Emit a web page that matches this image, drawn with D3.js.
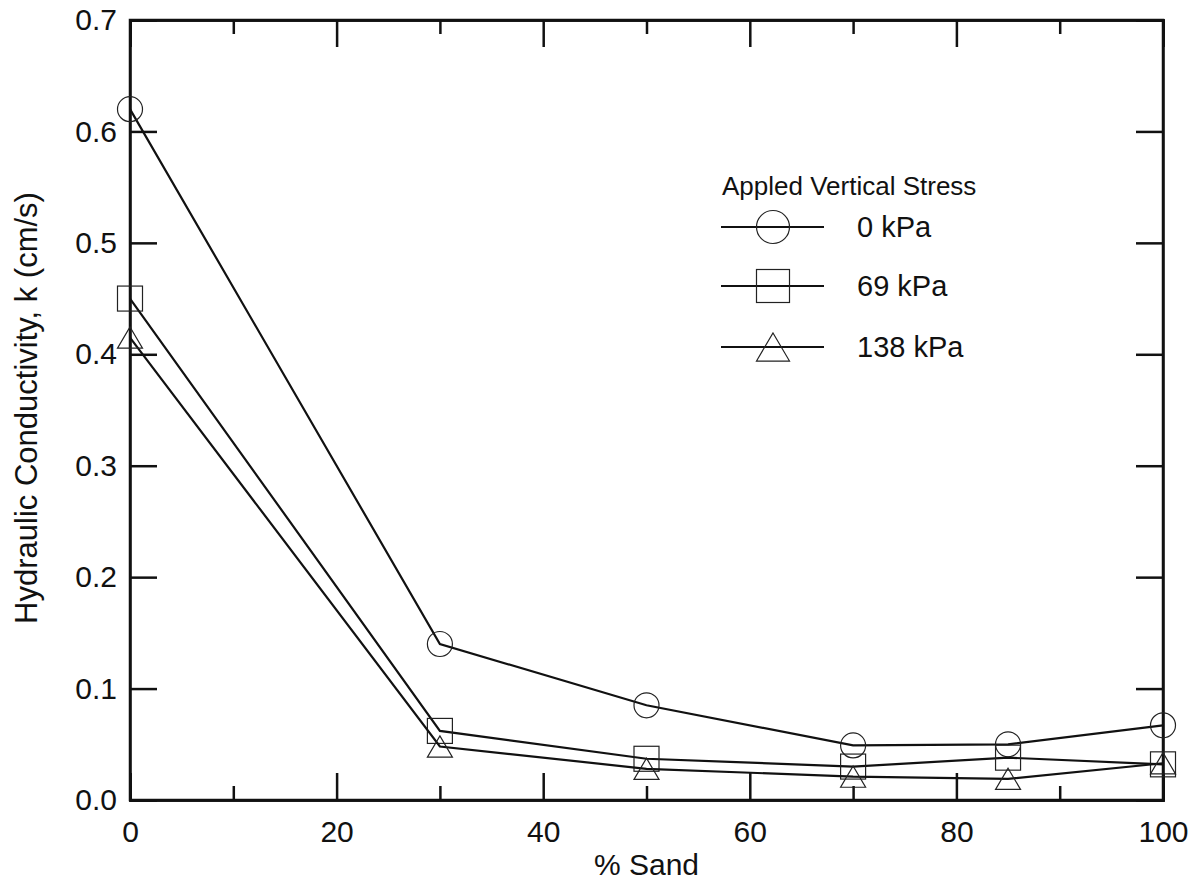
<!DOCTYPE html>
<html>
<head>
<meta charset="utf-8">
<script src="https://cdn.jsdelivr.net/npm/d3@7"></script>
<style>
body { margin: 0; background: #fff; }
text { font-family: "Liberation Sans", Arial, sans-serif; fill: #111; }
</style>
</head>
<body>
<script>
// data
var sand = [0, 30, 50, 70, 85, 100];
var k0 = [0.62, 0.14, 0.085, 0.049, 0.050, 0.067];
var k69 = [0.45, 0.062, 0.037, 0.030, 0.038, 0.032];
var k138 = [0.415, 0.048, 0.028, 0.021, 0.019, 0.033];
var seriesNames = ["0 kPa", "69 kPa", "138 kPa"];
var markerTypes = ["circle", "square", "triangle"];
var xTicks = [0, 20, 40, 60, 80, 100];
var xMinor = [10, 30, 50, 70, 90];
var yTicks = [0, 0.1, 0.2, 0.3, 0.4, 0.5, 0.6, 0.7];

var width = 1195, height = 881;
var mLeft = 130, mRight = 1163, mTop = 20, mBottom = 800;

var svg = d3.select("body").append("svg")
  .attr("width", width)
  .attr("height", height);

var x = d3.scaleLinear().domain([0, 100]).range([mLeft, mRight]);
var y = d3.scaleLinear().domain([0, 0.7]).range([mBottom, mTop]);

// axes, ticks pointing inward
svg.append("g").attr("transform", "translate(0," + mBottom + ")")
  .call(d3.axisBottom(x).tickValues(xTicks).tickSize(-27).tickPadding(21).tickFormat(d3.format("d")));
svg.append("g").attr("transform", "translate(0," + mBottom + ")")
  .call(d3.axisBottom(x).tickValues(xMinor).tickSize(-14).tickFormat(""));
svg.append("g").attr("transform", "translate(0," + mTop + ")")
  .call(d3.axisTop(x).tickValues(xTicks).tickSize(-27).tickFormat(""));
svg.append("g").attr("transform", "translate(0," + mTop + ")")
  .call(d3.axisTop(x).tickValues(xMinor).tickSize(-14).tickFormat(""));
svg.append("g").attr("transform", "translate(" + mLeft + ",0)")
  .call(d3.axisLeft(y).tickValues(yTicks).tickSize(-27).tickPadding(13).tickFormat(d3.format(".1f")));
svg.append("g").attr("transform", "translate(" + mRight + ",0)")
  .call(d3.axisRight(y).tickValues(yTicks).tickSize(-27).tickFormat(""));

svg.selectAll(".domain").attr("stroke", "#111").attr("stroke-width", 2.5);
svg.selectAll(".tick line").attr("stroke", "#111").attr("stroke-width", 2.5);
svg.selectAll(".tick text").style("font-size", "30px").attr("fill", "#111");

// box
svg.append("rect")
  .attr("x", mLeft).attr("y", mTop)
  .attr("width", mRight - mLeft).attr("height", mBottom - mTop)
  .attr("fill", "none").attr("stroke", "#111").attr("stroke-width", 2.5);

// axis titles
svg.append("text")
  .attr("x", (mLeft + mRight) / 2).attr("y", 875)
  .attr("text-anchor", "middle")
  .style("font-size", "30px")
  .text("% Sand");
svg.append("text")
  .attr("transform", "translate(37,408) rotate(-90)")
  .attr("text-anchor", "middle")
  .style("font-size", "31px")
  .text("Hydraulic Conductivity, k (cm/s)");

function drawMarker(g, type, cx, cy, s) {
  if (type === "circle") {
    g.append("circle").attr("cx", cx).attr("cy", cy).attr("r", s / 2);
  } else if (type === "square") {
    g.append("rect").attr("x", cx - s / 2).attr("y", cy - s / 2).attr("width", s).attr("height", s);
  } else {
    var h = s * 0.85;
    g.append("path").attr("d", "M" + cx + "," + (cy - h / 2) + "L" + (cx + s / 2) + "," + (cy + h / 2) + "L" + (cx - s / 2) + "," + (cy + h / 2) + "Z");
  }
}

var allSeries = [k0, k69, k138];
var line = d3.line().x(function(d) { return x(d[0]); }).y(function(d) { return y(d[1]); });

allSeries.forEach(function(vals, i) {
  var pts = sand.map(function(s, j) { return [s, vals[j]]; });
  svg.append("path").datum(pts)
    .attr("d", line)
    .attr("fill", "none").attr("stroke", "#111").attr("stroke-width", 2.2);
  var mg = svg.append("g").attr("fill", "none").attr("stroke", "#222").attr("stroke-width", 1.2);
  pts.forEach(function(p) {
    drawMarker(mg, markerTypes[i], x(p[0]), y(p[1]), 25);
  });
});

// legend
var legend = svg.append("g");
legend.append("text").attr("x", 722).attr("y", 195)
  .style("font-size", "26px").text("Appled Vertical Stress");
var rowY = [227, 286, 347];
seriesNames.forEach(function(name, i) {
  legend.append("line").attr("x1", 721).attr("x2", 824).attr("y1", rowY[i]).attr("y2", rowY[i])
    .attr("stroke", "#111").attr("stroke-width", 2);
  var mg = legend.append("g").attr("fill", "none").attr("stroke", "#222").attr("stroke-width", 1.2);
  drawMarker(mg, markerTypes[i], 773, rowY[i], 33);
  legend.append("text").attr("x", 857).attr("y", rowY[i] + 10)
    .style("font-size", "29px").text(name);
});
</script>
</body>
</html>
